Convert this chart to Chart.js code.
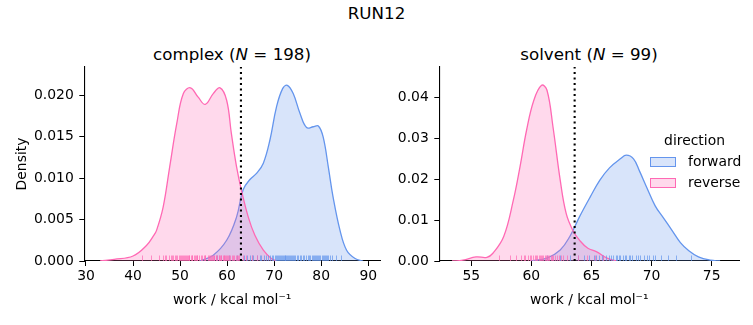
<!DOCTYPE html>
<html>
<head>
<meta charset="utf-8">
<script src="https://cdn.jsdelivr.net/npm/chart.js@4.4.1/dist/chart.umd.min.js"></script>
<style>
  body { margin: 0; background: #fff; font-family: 'DejaVu Sans', sans-serif; }
  #fig { position: relative; width: 753px; height: 325px; overflow: hidden; }
  canvas { position: absolute; top: 0; }
  .txt { position: absolute; white-space: nowrap; color: #000; transform: translate(-50%, -50%); line-height: 1; }
  .sw { position: absolute; width: 26px; height: 10px; box-sizing: border-box; border: 1px solid; }
</style>
</head>
<body>
<div id="fig">
  <div class="txt" style="left:376.5px; top:13px; font-size:16.7px;">RUN12</div>
  <div class="txt" style="left:232px; top:54px; font-size:16.7px;">complex (<i>N</i> = 198)</div>
  <div class="txt" style="left:589px; top:54px; font-size:16.7px;">solvent (<i>N</i> = 99)</div>
  <canvas id="complexChart" width="390" height="325" style="left:0px"></canvas>
  <canvas id="solventChart" width="363" height="325" style="left:390px"></canvas>
  <div class="txt" style="left:694.5px; top:141px; font-size:13.9px;">direction</div>
  <div class="sw" style="left:650px; top:157px; background:rgba(100,149,237,0.25); border-color:rgb(100,149,237);"></div>
  <div class="txt" style="left:688px; top:162px; font-size:13.9px; transform:translate(0,-50%);">forward</div>
  <div class="sw" style="left:650px; top:178px; background:rgba(255,105,180,0.25); border-color:rgb(255,105,180);"></div>
  <div class="txt" style="left:688px; top:183px; font-size:13.9px; transform:translate(0,-50%);">reverse</div>
</div>
<script>
// --- complex leg: KDE curves (work in kcal/mol, density) ---
const complexFwdWork = [54.2, 57.05, 59.9, 62.0, 63.4, 64.8, 66.3, 67.7, 69.1, 70.5, 71.8, 72.8, 74.05, 75.5, 76.9, 78.3, 79.4, 80.4, 81.5, 82.5, 84.0, 85.4, 87.2, 88.9];
const complexFwdDens = [0, 0.0007, 0.0025, 0.0053, 0.0086, 0.0098, 0.0106, 0.0118, 0.0146, 0.0186, 0.0208, 0.0212, 0.0202, 0.0178, 0.0161, 0.0162, 0.0163, 0.0150, 0.0114, 0.0078, 0.0037, 0.0013, 0.0003, 0];
const complexRevWork = [33, 36, 40, 42.9, 44.3, 45.0, 46.4, 47.8, 49.3, 50.7, 52.2, 53.8, 55.35, 57.05, 58.5, 59.9, 60.9, 62.0, 63.1, 64.5, 65.9, 67.7, 69.4, 70.5];
const complexRevDens = [0, 0.0002, 0.0006, 0.0019, 0.0030, 0.0037, 0.0065, 0.0114, 0.0166, 0.0202, 0.0209, 0.0198, 0.0189, 0.0202, 0.0209, 0.0194, 0.0154, 0.0114, 0.0084, 0.0053, 0.0031, 0.0013, 0.0003, 0];
// rug samples
const complexFwdRug = [57.8, 60.5, 62.2, 63.5, 64.2, 64.9, 65.2, 65.6, 66.4, 66.9, 67.2, 67.9, 68.2, 68.6, 69.2, 69.5, 69.8, 70.1, 70.3, 70.6, 70.8, 71.0, 71.2, 71.4, 71.6, 71.8, 72.0, 72.2, 72.4, 72.6, 72.8, 73.0, 73.2, 73.4, 73.6, 73.8, 74.0, 74.3, 74.5, 74.8, 75.0, 75.5, 75.8, 76.1, 76.4, 76.7, 77.2, 77.5, 77.7, 78.1, 78.3, 78.5, 78.7, 78.9, 79.1, 79.3, 79.5, 79.7, 80.1, 80.3, 80.5, 80.9, 81.0, 81.3, 81.5, 81.8, 82.4, 83.2, 84.2];
const complexRevRug = [42.0, 43.9, 45.6, 46.4, 46.9, 47.1, 47.6, 48.0, 48.2, 48.5, 48.9, 49.1, 49.3, 49.7, 49.9, 50.1, 50.4, 50.6, 50.8, 51.1, 51.2, 51.4, 51.7, 51.9, 52.0, 52.3, 52.5, 52.6, 52.9, 53.1, 53.3, 53.5, 53.7, 54.1, 54.4, 54.6, 55.0, 55.2, 55.4, 55.9, 56.1, 56.3, 56.5, 56.7, 57.0, 57.2, 57.3, 57.6, 57.7, 57.9, 58.2, 58.3, 58.5, 58.7, 58.8, 59.1, 59.3, 59.4, 59.6, 59.8, 60.0, 60.2, 60.4, 60.6, 61.0, 61.2, 61.5, 61.8, 62.0, 62.3, 62.6, 63.3, 64.1, 65.2, 66.3];
const complexMark = 62.94;
const complexXTicks = [30, 40, 50, 60, 70, 80, 90];
const complexYTicks = [0, 0.005, 0.010, 0.015, 0.020];

// --- solvent leg ---
const solventFwdWork = [59.9, 61.3, 62.4, 63.2, 64.0, 64.9, 65.7, 66.5, 67.4, 67.9, 68.5, 69.0, 69.6, 70.3, 71.0, 71.7, 72.4, 73.1, 73.9, 74.9, 75.7];
const solventFwdDens = [0, 0.0007, 0.0027, 0.0060, 0.0108, 0.0157, 0.0198, 0.0228, 0.0250, 0.0259, 0.0250, 0.0220, 0.0180, 0.0135, 0.0105, 0.0075, 0.0045, 0.0025, 0.0010, 0.0002, 0];
const solventRevWork = [53.4, 54.3, 55.4, 56.3, 56.8, 57.7, 58.5, 59.05, 59.6, 60.2, 60.85, 61.3, 61.8, 62.4, 62.9, 63.5, 64.0, 64.7, 65.4, 66.3, 67.1];
const solventRevDens = [0, 0.0002, 0.0010, 0.0009, 0.0019, 0.0060, 0.0149, 0.0230, 0.0320, 0.0393, 0.0430, 0.0418, 0.0328, 0.0198, 0.0116, 0.0072, 0.0051, 0.0031, 0.0023, 0.0007, 0];
const solventFwdRug = [61.3, 62.4, 63.2, 63.9, 64.4, 64.8, 65.2, 65.4, 65.6, 65.9, 66.0, 66.2, 66.5, 66.6, 66.8, 67.0, 67.1, 67.3, 67.4, 67.6, 67.8, 67.9, 68.1, 68.2, 68.4, 68.7, 68.9, 69.0, 69.4, 69.6, 69.8, 70.1, 70.3, 70.8, 71.4, 72.0, 73.3];
const solventRevRug = [57.3, 58.2, 58.7, 59.1, 59.4, 59.5, 59.7, 59.9, 60.0, 60.1, 60.3, 60.4, 60.5, 60.6, 60.7, 60.8, 60.9, 61.0, 61.1, 61.2, 61.3, 61.4, 61.5, 61.6, 61.7, 61.8, 62.0, 62.1, 62.3, 62.5, 62.6, 63.0, 63.9, 64.6, 65.3, 66.0];
const solventMark = 63.6;
const solventXTicks = [55, 60, 65, 70, 75];
const solventYTicks = [0, 0.01, 0.02, 0.03, 0.04];

const BLUE = 'rgb(100,149,237)';
const PINK = 'rgb(255,105,180)';
const FONT = { family: "'DejaVu Sans', sans-serif", size: 13.9 };

const toPoints = (xs, ys) => xs.map((x, i) => ({ x: x, y: ys[i] }));

// rug ticks drawn just before the dotted line (dataset 0 is drawn last)
const rugPlugin = {
  id: 'rug',
  afterDatasetDraw(chart, args) {
    if (args.index !== 1) return;
    const { ctx, chartArea, scales } = chart;
    const rugs = chart.options.plugins.rug.sets;
    ctx.save();
    ctx.beginPath();
    ctx.rect(chartArea.left, chartArea.top, chartArea.width, chartArea.height);
    ctx.clip();
    ctx.lineWidth = 1;
    rugs.forEach(r => {
      ctx.strokeStyle = r.color;
      r.values.forEach(v => {
        const px = Math.round(scales.x.getPixelForValue(v)) + 0.5;
        const py = scales.y.getPixelForValue(0);
        ctx.beginPath();
        ctx.moveTo(px, py);
        ctx.lineTo(px, py - 5.5);
        ctx.stroke();
      });
    });
    ctx.restore();
  }
};

function makePanel(id, p) {
  const ctx = document.getElementById(id).getContext('2d');
  return new Chart(ctx, {
    type: 'line',
    data: {
      datasets: [
        {
          data: [{ x: p.mark, y: 0 }, { x: p.mark, y: p.ymax }],
          borderColor: '#000', borderWidth: 2.1, borderDash: [2.1, 3.4],
          pointRadius: 0, fill: false
        },
        {
          data: toPoints(p.revX, p.revY),
          borderColor: PINK, backgroundColor: 'rgba(255,105,180,0.25)',
          borderWidth: 1.3, pointRadius: 0, fill: 'origin', tension: 0.4
        },
        {
          data: toPoints(p.fwdX, p.fwdY),
          borderColor: BLUE, backgroundColor: 'rgba(100,149,237,0.25)',
          borderWidth: 1.3, pointRadius: 0, fill: 'origin', tension: 0.4
        }
      ]
    },
    options: {
      responsive: false,
      animation: false,
      events: [],
      layout: { padding: { left: 0, top: 67, right: p.padRight, bottom: 0 } },
      plugins: {
        legend: { display: false },
        tooltip: { enabled: false },
        rug: {
          sets: [
            { values: p.fwdRug, color: 'rgba(100,149,237,0.7)' },
            { values: p.revRug, color: 'rgba(255,105,180,0.7)' }
          ]
        }
      },
      scales: {
        x: {
          type: 'linear',
          min: p.xmin, max: p.xmax,
          afterBuildTicks: s => { s.ticks = p.xTicks.map(v => ({ value: v })); },
          afterFit: s => { s.height = 64; },
          ticks: { color: '#000', font: FONT, padding: 2, maxRotation: 0, callback: v => String(v) },
          grid: { drawOnChartArea: false, color: '#000', tickLength: 5, lineWidth: 1 },
          border: { display: true, color: '#000', width: 1.1 },
          title: { display: true, text: 'work / kcal mol⁻¹', color: '#000', font: FONT, padding: { top: 0, bottom: 16.7 } }
        },
        y: {
          min: 0, max: p.ymax,
          afterBuildTicks: s => { s.ticks = p.yTicks.map(v => ({ value: v })); },
          afterFit: s => { s.width = p.yWidth; },
          ticks: { color: '#000', font: FONT, padding: 5.5, callback: v => v.toFixed(p.yDigits) },
          grid: { drawOnChartArea: false, color: '#000', tickLength: 5, lineWidth: 1 },
          border: { display: true, color: '#000', width: 1.1 },
          title: { display: p.yTitle, text: 'Density', color: '#000', font: FONT, padding: { top: 13.7, bottom: 0 } }
        }
      }
    },
    plugins: [rugPlugin]
  });
}

makePanel('complexChart', {
  fwdX: complexFwdWork, fwdY: complexFwdDens, revX: complexRevWork, revY: complexRevDens,
  fwdRug: complexFwdRug, revRug: complexRevRug, mark: complexMark,
  xTicks: complexXTicks, yTicks: complexYTicks, yDigits: 3,
  xmin: 29.64, xmax: 92.5, ymax: 0.02341,
  yWidth: 84.3, padRight: 10, yTitle: true
});

makePanel('solventChart', {
  fwdX: solventFwdWork, fwdY: solventFwdDens, revX: solventRevWork, revY: solventRevDens,
  fwdRug: solventFwdRug, revRug: solventRevRug, mark: solventMark,
  xTicks: solventXTicks, yTicks: solventYTicks, yDigits: 2,
  xmin: 52.34, xmax: 77.3, ymax: 0.04748,
  yWidth: 49.3, padRight: 13.7, yTitle: false
});
</script>
</body>
</html>
